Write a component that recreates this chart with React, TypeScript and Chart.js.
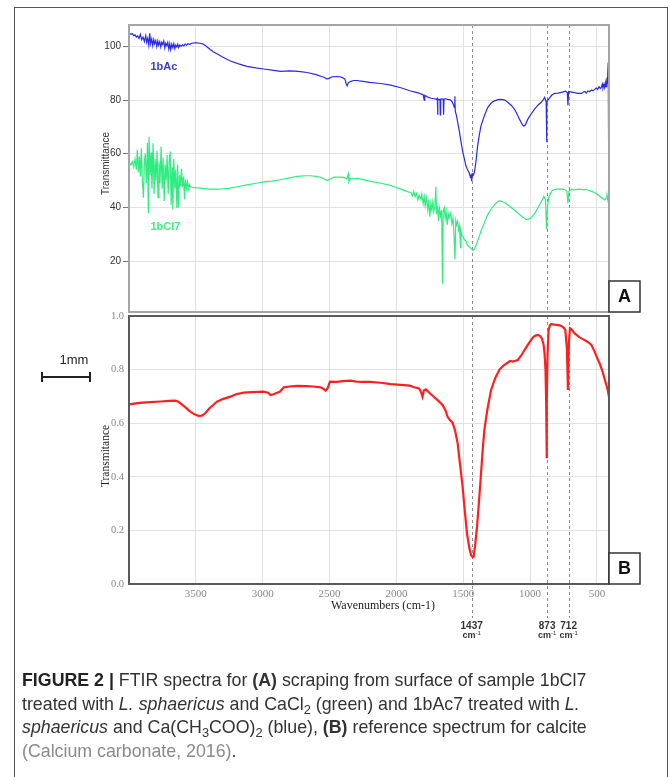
import React, { useEffect, useRef } from "react";
import { Chart, registerables } from "chart.js";

Chart.register(...registerables);

// ---------------- data ----------------
const X_MIN = 410;
const X_MAX = 4000;
const xTicks = [3500, 3000, 2500, 2000, 1500, 1000, 500];
const aTicks = [20, 40, 60, 80, 100];
const bTicks = [0, 0.2, 0.4, 0.6, 0.8, 1.0];
const markers = [1437, 873, 712];
const markerLabels = ["1437", "873", "712"];

// 1bAc (blue) : [wavenumber, transmittance]
const bAc7: [number, number][] = [
  [3995, 104.9], [3985, 104.5], [3975, 104.8], [3965, 104.0], [3955, 104.3], [3945, 103.5], [3935, 103.9],
  [3925, 103.0], [3915, 104.5], [3905, 102.5], [3895, 103.5], [3885, 101.8], [3875, 104.0], [3868, 101.5],
  [3860, 103.0], [3852, 100.5], [3845, 104.9], [3838, 101.0], [3830, 102.8], [3822, 100.3], [3815, 102.5],
  [3808, 101.0], [3800, 102.2], [3792, 100.0], [3785, 102.0], [3778, 100.5], [3770, 101.8], [3762, 99.8],
  [3755, 101.5], [3748, 100.8], [3740, 102.0], [3732, 99.5], [3725, 101.2], [3717, 100.3], [3710, 101.5],
  [3702, 99.0], [3695, 101.0], [3688, 98.8], [3680, 100.8], [3672, 99.5], [3665, 101.0], [3657, 99.2],
  [3650, 100.5], [3642, 99.8], [3635, 100.8], [3628, 99.6], [3620, 100.5], [3610, 100.0], [3600, 100.6],
  [3590, 100.2], [3580, 100.9], [3570, 100.5], [3560, 101.0], [3545, 100.8], [3530, 101.2], [3510, 101.3],
  [3492, 101.3], [3470, 101.2], [3445, 100.9], [3420, 100.0], [3390, 98.8], [3370, 98.0], [3343, 97.3],
  [3300, 96.1], [3242, 94.6], [3180, 93.5], [3118, 92.6], [3050, 92.0], [2992, 91.6], [2930, 91.2],
  [2867, 90.7], [2830, 90.8], [2800, 90.9], [2760, 90.8], [2720, 90.6], [2667, 90.3], [2600, 89.5],
  [2560, 88.8], [2542, 88.5], [2525, 88.0], [2515, 87.9], [2500, 88.2], [2480, 88.7], [2450, 88.8],
  [2420, 88.7], [2400, 88.3], [2385, 87.8], [2375, 86.0], [2368, 85.3], [2360, 86.5], [2345, 86.9],
  [2320, 87.3], [2295, 87.3], [2250, 87.0], [2200, 86.6], [2117, 86.2], [2043, 85.6], [1967, 84.6],
  [1900, 83.5], [1860, 83.0], [1830, 82.6], [1817, 82.3], [1800, 82.0], [1792, 80.0], [1788, 81.8],
  [1760, 81.0], [1740, 80.7], [1717, 80.5], [1700, 80.3], [1694, 80.6], [1692, 74.5], [1689, 80.4],
  [1680, 80.2], [1674, 80.5], [1672, 74.5], [1669, 80.3], [1660, 80.5], [1650, 80.2], [1647, 74.5],
  [1644, 80.4], [1630, 80.5], [1617, 80.3], [1600, 80.2], [1585, 79.5], [1575, 78.5], [1566, 77.2],
  [1563, 81.4], [1560, 76.0], [1550, 74.0], [1542, 71.8], [1530, 68.5], [1517, 64.5], [1505, 61.0],
  [1492, 58.2], [1480, 55.5], [1467, 53.9], [1455, 52.8], [1448, 51.5], [1442, 52.0], [1437, 49.8],
  [1432, 52.5], [1425, 52.0], [1417, 53.0], [1405, 57.0], [1392, 63.1], [1380, 67.0], [1367, 70.5],
  [1340, 74.5], [1317, 77.2], [1290, 79.0], [1267, 79.7], [1240, 80.2], [1217, 80.3], [1190, 80.0],
  [1167, 79.2], [1140, 78.0], [1117, 76.6], [1100, 75.0], [1080, 72.9], [1060, 71.0], [1047, 70.3],
  [1035, 70.8], [1017, 72.9], [990, 75.0], [967, 76.6], [940, 78.2], [917, 79.2], [900, 80.3],
  [892, 81.0], [880, 79.5], [877, 64.3], [874, 79.0], [868, 80.0], [862, 80.3], [840, 81.8], [817, 82.5],
  [790, 82.6], [760, 83.0], [735, 83.3], [722, 82.8], [717, 78.1], [712, 83.2], [690, 83.0], [667, 82.8],
  [640, 82.5], [617, 82.5], [600, 83.0], [590, 83.2], [580, 82.6], [567, 83.4], [555, 83.2], [540, 83.8],
  [530, 83.5], [517, 84.0], [505, 84.5], [495, 84.0], [485, 85.0], [475, 84.3], [467, 84.8], [460, 86.0],
  [455, 84.5], [448, 85.8], [442, 84.6], [437, 86.5], [432, 85.0], [427, 87.0], [424, 88.5], [421, 86.0],
  [418, 90.0], [416, 94.0], [414, 85.0], [412, 57.0], [411, 88.0], [410, 86.0],
];

// 1bCl7 (green)
const bCl7: [number, number][] = [
  [3995, 56.5], [3985, 55.8], [3975, 57.0], [3965, 55.0], [3955, 58.0], [3945, 54.0], [3938, 61.5],
  [3930, 53.0], [3922, 59.0], [3915, 51.5], [3908, 62.0], [3900, 50.0], [3892, 43.6], [3885, 57.0],
  [3878, 60.0], [3870, 49.0], [3862, 64.0], [3855, 37.8], [3850, 66.3], [3842, 52.0], [3835, 60.5],
  [3828, 47.0], [3820, 63.9], [3812, 45.0], [3805, 58.0], [3798, 50.0], [3790, 61.0], [3783, 43.6],
  [3776, 57.0], [3768, 49.0], [3760, 62.7], [3752, 47.0], [3745, 58.5], [3737, 42.4], [3730, 56.0],
  [3722, 50.0], [3715, 59.5], [3707, 45.0], [3700, 57.0], [3692, 60.8], [3685, 41.0], [3678, 55.0],
  [3672, 39.2], [3665, 58.0], [3657, 47.0], [3650, 54.0], [3642, 39.8], [3636, 56.0], [3630, 40.0],
  [3622, 52.0], [3615, 48.0], [3607, 54.5], [3600, 47.5], [3592, 51.5], [3585, 43.0], [3578, 50.5],
  [3570, 47.0], [3562, 49.5], [3555, 47.0], [3548, 48.5], [3540, 47.8], [3530, 47.5], [3490, 47.3],
  [3440, 47.0], [3400, 46.8], [3342, 46.8], [3300, 46.9], [3242, 47.2], [3180, 47.8], [3118, 48.4],
  [3050, 49.0], [2992, 49.5], [2930, 49.8], [2867, 50.3], [2800, 51.0], [2742, 51.6], [2680, 51.8],
  [2642, 51.8], [2600, 51.6], [2567, 51.2], [2540, 50.6], [2517, 50.0], [2500, 50.4], [2467, 51.3],
  [2420, 51.3], [2392, 51.2], [2370, 50.6], [2360, 52.5], [2355, 49.5], [2345, 50.8], [2330, 50.6],
  [2292, 50.8], [2200, 49.8], [2117, 49.0], [2042, 48.2], [2017, 47.7], [1967, 46.8], [1917, 45.9],
  [1890, 45.5], [1880, 44.3], [1870, 46.0], [1860, 44.0], [1850, 45.2], [1840, 42.8], [1830, 44.5],
  [1817, 43.0], [1810, 45.0], [1800, 41.5], [1792, 44.0], [1785, 40.5], [1775, 43.5], [1765, 39.0],
  [1757, 42.8], [1750, 36.5], [1742, 41.5], [1735, 39.0], [1728, 42.0], [1720, 38.5], [1712, 40.5],
  [1705, 47.7], [1700, 37.5], [1692, 40.5], [1685, 35.0], [1678, 39.5], [1670, 36.8], [1662, 39.0],
  [1655, 11.5], [1650, 38.5], [1642, 39.8], [1635, 36.0], [1628, 38.5], [1620, 33.5], [1612, 37.5],
  [1605, 36.0], [1597, 38.0], [1592, 37.3], [1585, 34.0], [1577, 36.0], [1570, 30.5], [1562, 20.7],
  [1556, 35.0], [1550, 33.5], [1542, 34.9], [1535, 31.5], [1528, 33.0], [1520, 25.0], [1517, 31.2],
  [1510, 29.5], [1500, 29.0], [1490, 27.8], [1480, 27.5], [1470, 26.0], [1460, 25.5], [1450, 25.0],
  [1442, 24.6], [1430, 24.0], [1417, 24.4], [1405, 25.8], [1392, 27.5], [1380, 29.3], [1367, 31.2],
  [1340, 34.5], [1317, 37.3], [1290, 39.5], [1267, 41.0], [1245, 42.0], [1230, 42.5], [1200, 42.0],
  [1167, 41.0], [1130, 39.5], [1092, 37.9], [1060, 36.5], [1030, 35.5], [1010, 35.6], [992, 36.1],
  [965, 37.8], [942, 39.8], [920, 41.8], [897, 44.1], [885, 43.0], [877, 31.8], [870, 40.0], [862, 43.5],
  [845, 45.5], [830, 46.5], [800, 46.8], [767, 46.9], [740, 46.6], [725, 46.0], [717, 41.6], [710, 46.0],
  [690, 46.7], [667, 46.5], [640, 46.8], [610, 46.6], [590, 46.7], [567, 46.5], [530, 45.8], [492, 44.7],
  [470, 43.8], [455, 43.2], [442, 42.8], [432, 43.5], [425, 44.2], [418, 42.5], [414, 46.0], [412, 32.4],
  [410, 43.5],
];

// calcite reference (red)
const calcite: [number, number][] = [
  [3995, 0.670], [3950, 0.674], [3900, 0.677], [3842, 0.679], [3760, 0.681], [3700, 0.683], [3655, 0.684],
  [3630, 0.680], [3617, 0.675], [3580, 0.660], [3542, 0.643], [3510, 0.633], [3480, 0.627], [3455, 0.628],
  [3430, 0.637], [3400, 0.655], [3370, 0.668], [3342, 0.680], [3300, 0.690], [3242, 0.699], [3200, 0.708],
  [3142, 0.714], [3080, 0.716], [2992, 0.718], [2960, 0.714], [2942, 0.705], [2920, 0.708], [2892, 0.714],
  [2870, 0.718], [2842, 0.734], [2800, 0.737], [2742, 0.739], [2680, 0.738], [2620, 0.737], [2567, 0.734],
  [2545, 0.728], [2530, 0.721], [2515, 0.730], [2497, 0.755], [2450, 0.754], [2400, 0.757], [2342, 0.759],
  [2300, 0.755], [2250, 0.754], [2200, 0.754], [2117, 0.751], [2042, 0.746], [1967, 0.743], [1900, 0.740],
  [1867, 0.734], [1830, 0.730], [1815, 0.715], [1805, 0.699], [1795, 0.722], [1780, 0.726], [1750, 0.712],
  [1717, 0.697], [1690, 0.685], [1655, 0.668], [1635, 0.650], [1617, 0.624], [1600, 0.612], [1580, 0.602],
  [1560, 0.570], [1542, 0.525], [1525, 0.450], [1505, 0.363], [1490, 0.280], [1472, 0.189], [1455, 0.135],
  [1442, 0.108], [1430, 0.100], [1422, 0.102], [1410, 0.150], [1397, 0.214], [1382, 0.310], [1367, 0.413],
  [1355, 0.500], [1342, 0.575], [1320, 0.650], [1292, 0.724], [1260, 0.770], [1230, 0.799], [1200, 0.815],
  [1167, 0.826], [1150, 0.832], [1130, 0.830], [1110, 0.833], [1092, 0.836], [1070, 0.850], [1042, 0.873],
  [1010, 0.898], [980, 0.920], [960, 0.927], [942, 0.929], [925, 0.925], [912, 0.916], [900, 0.895],
  [892, 0.861], [885, 0.800], [880, 0.680], [877, 0.469], [874, 0.680], [870, 0.850], [862, 0.948],
  [852, 0.965], [842, 0.970], [820, 0.968], [800, 0.967], [780, 0.965], [767, 0.963], [750, 0.957],
  [737, 0.948], [725, 0.880], [717, 0.724], [710, 0.900], [702, 0.954], [690, 0.950], [667, 0.935],
  [630, 0.920], [592, 0.910], [560, 0.900], [542, 0.892], [520, 0.870], [500, 0.845], [480, 0.823],
  [460, 0.795], [440, 0.760], [420, 0.725], [410, 0.699],
];

// ---------------- styles ----------------
const SANS = "'Liberation Sans', Arial, Helvetica, sans-serif";
const SERIF = "'Liberation Serif', 'Times New Roman', serif";
const BLUE = "#2a2ae6";
const GREEN = "#30ec80";
const RED = "#ff1f1f";
const GRID = "#e2e2e2";

const toXY = (arr: [number, number][]) => arr.map(([x, y]) => ({ x, y }));
const fixTicks = (vals: number[]) => (scale: any) => {
  scale.ticks = vals.map((v) => ({ value: v }));
};

function drawMarkers(chart: any, bottom: number) {
  const { ctx, chartArea: a } = chart;
  const xs = chart.scales.x;
  ctx.save();
  ctx.strokeStyle = "#8c8c8c";
  ctx.lineWidth = 1;
  ctx.setLineDash([3, 3]);
  markers.forEach((m) => {
    const px = Math.round(xs.getPixelForValue(m)) + 0.5;
    ctx.beginPath();
    ctx.moveTo(px, a.top);
    ctx.lineTo(px, bottom);
    ctx.stroke();
  });
  ctx.restore();
}

function drawLetterBox(ctx: any, a: any, letter: string) {
  const s = 31;
  ctx.save();
  ctx.fillStyle = "#fff";
  ctx.fillRect(a.right, a.bottom - s, s, s);
  ctx.strokeStyle = "#333";
  ctx.lineWidth = 1.5;
  ctx.strokeRect(a.right, a.bottom - s, s, s);
  ctx.fillStyle = "#111";
  ctx.font = `bold 18px ${SANS}`;
  ctx.textAlign = "center";
  ctx.textBaseline = "middle";
  ctx.fillText(letter, a.right + s / 2, a.bottom - s / 2 + 1);
  ctx.restore();
}

const overlayA = {
  id: "overlayA",
  beforeDatasetsDraw(chart: any) {
    drawMarkers(chart, chart.chartArea.bottom);
  },
  afterDraw(chart: any) {
    const { ctx, chartArea: a } = chart;
    const xs = chart.scales.x;
    const ys = chart.scales.y;
    ctx.save();
    ctx.strokeStyle = "#a5a5a5";
    ctx.lineWidth = 2;
    ctx.strokeRect(a.left, a.top, a.right - a.left, a.bottom - a.top);

    ctx.font = `bold 11px ${SANS}`;
    ctx.textAlign = "left";
    ctx.textBaseline = "middle";
    ctx.fillStyle = "#3a3ad0";
    ctx.fillText("1bAc", xs.getPixelForValue(3840), ys.getPixelForValue(92.2));
    ctx.fillStyle = "#3cf07a";
    ctx.fillText("1bCl7", xs.getPixelForValue(3840), ys.getPixelForValue(32.6));

    ctx.save();
    ctx.translate(106, (a.top + a.bottom) / 2 - 5);
    ctx.rotate(-Math.PI / 2);
    ctx.font = `10px ${SANS}`;
    ctx.fillStyle = "#333";
    ctx.textAlign = "center";
    ctx.textBaseline = "middle";
    ctx.fillText("Transmittance", 0, 0);
    ctx.restore();
    ctx.restore();

    drawLetterBox(ctx, a, "A");
  },
};

const overlayB = {
  id: "overlayB",
  beforeDatasetsDraw(chart: any) {
    drawMarkers(chart, 318);
  },
  afterDraw(chart: any) {
    const { ctx, chartArea: a } = chart;
    const xs = chart.scales.x;
    ctx.save();
    ctx.strokeStyle = "#5a5a5a";
    ctx.lineWidth = 2;
    ctx.strokeRect(a.left, a.top, a.right - a.left, a.bottom - a.top);

    // marker labels
    ctx.fillStyle = "#333";
    ctx.textAlign = "center";
    ctx.textBaseline = "middle";
    markers.forEach((m, i) => {
      const px = xs.getPixelForValue(m);
      ctx.font = `bold 10px ${SANS}`;
      ctx.fillText(markerLabels[i], px, 326);
      ctx.font = `bold 9px ${SANS}`;
      const w = ctx.measureText("cm").width;
      ctx.font = `6px ${SANS}`;
      const w2 = ctx.measureText("-1").width;
      const start = px - (w + w2) / 2;
      ctx.textAlign = "left";
      ctx.font = `bold 9px ${SANS}`;
      ctx.fillText("cm", start, 336);
      ctx.font = `6px ${SANS}`;
      ctx.fillText("-1", start + w, 333);
      ctx.textAlign = "center";
    });

    // y title
    ctx.save();
    ctx.translate(106, (a.top + a.bottom) / 2 + 6);
    ctx.rotate(-Math.PI / 2);
    ctx.font = `11.5px ${SERIF}`;
    ctx.fillStyle = "#222";
    ctx.textAlign = "center";
    ctx.textBaseline = "middle";
    ctx.fillText("Transmitance", 0, 0);
    ctx.restore();

    // x title
    ctx.font = `12px ${SERIF}`;
    ctx.fillStyle = "#222";
    ctx.textAlign = "center";
    ctx.textBaseline = "middle";
    ctx.fillText("Wavenumbers (cm-1)", 383, 306);

    // scale bar
    ctx.fillStyle = "#222";
    ctx.font = `13px ${SANS}`;
    ctx.fillText("1mm", 74, 60);
    ctx.strokeStyle = "#222";
    ctx.lineWidth = 2;
    ctx.beginPath();
    ctx.moveTo(41, 77);
    ctx.lineTo(91, 77);
    ctx.moveTo(42, 72);
    ctx.lineTo(42, 82);
    ctx.moveTo(90, 72);
    ctx.lineTo(90, 82);
    ctx.stroke();
    ctx.restore();

    drawLetterBox(ctx, a, "B");
  },
};

function configA(): any {
  return {
    type: "line",
    data: {
      datasets: [
        { data: toXY(bAc7), borderColor: BLUE, borderWidth: 1.2, pointRadius: 0, tension: 0 },
        { data: toXY(bCl7), borderColor: GREEN, borderWidth: 1.2, pointRadius: 0, tension: 0 },
      ],
    },
    options: {
      animation: false,
      responsive: false,
      events: [],
      layout: { padding: { left: 0, right: 61, top: 25, bottom: 0 } },
      plugins: { legend: { display: false }, tooltip: { enabled: false } },
      scales: {
        x: {
          type: "linear",
          min: X_MIN,
          max: X_MAX,
          reverse: true,
          afterBuildTicks: fixTicks(xTicks),
          ticks: { display: false },
          grid: { color: GRID, drawTicks: false },
          border: { display: false },
          afterFit: (s: any) => {
            s.height = 4;
          },
        },
        y: {
          type: "linear",
          min: 1,
          max: 108,
          afterBuildTicks: fixTicks(aTicks),
          ticks: {
            font: { family: SANS, size: 10 },
            color: "#333",
            padding: 2,
            autoSkip: false,
            callback: (v: any) => String(v),
          },
          grid: { color: GRID, tickColor: "#777", tickLength: 6, drawTicks: true },
          border: { display: false },
          afterFit: (s: any) => {
            s.width = 129;
          },
        },
      },
    },
    plugins: [overlayA],
  };
}

function configB(): any {
  return {
    type: "line",
    data: {
      datasets: [
        { data: toXY(calcite), borderColor: RED, borderWidth: 2.2, pointRadius: 0, tension: 0 },
      ],
    },
    options: {
      animation: false,
      responsive: false,
      events: [],
      layout: { padding: { left: 0, right: 61, top: 16, bottom: 0 } },
      plugins: { legend: { display: false }, tooltip: { enabled: false } },
      scales: {
        x: {
          type: "linear",
          min: X_MIN,
          max: X_MAX,
          reverse: true,
          afterBuildTicks: fixTicks(xTicks),
          ticks: {
            font: { family: SERIF, size: 11 },
            color: "#8a8a8a",
            padding: 4,
            autoSkip: false,
            maxRotation: 0,
            callback: (v: any) => String(v),
          },
          grid: { color: GRID, drawTicks: false },
          border: { display: false },
          afterFit: (s: any) => {
            s.height = 76;
          },
        },
        y: {
          type: "linear",
          min: 0,
          max: 1,
          afterBuildTicks: fixTicks(bTicks),
          ticks: {
            font: { family: SERIF, size: 10.5 },
            color: "#8a8a8a",
            padding: 5,
            autoSkip: false,
            callback: (v: any) => Number(v).toFixed(1),
          },
          grid: { color: GRID, drawTicks: false },
          border: { display: false },
          afterFit: (s: any) => {
            s.width = 129;
          },
        },
      },
    },
    plugins: [overlayB],
  };
}

const subStyle: React.CSSProperties = { fontSize: "0.72em", verticalAlign: "-0.3em", lineHeight: 0 };

export default function App() {
  const refA = useRef<HTMLCanvasElement>(null);
  const refB = useRef<HTMLCanvasElement>(null);

  useEffect(() => {
    const a = new Chart(refA.current as HTMLCanvasElement, configA());
    const b = new Chart(refB.current as HTMLCanvasElement, configB());
    return () => {
      a.destroy();
      b.destroy();
    };
  }, []);

  return (
    <div
      style={{
        position: "absolute",
        left: 0,
        top: 0,
        width: 670,
        height: 777,
        background: "#fff",
        overflow: "hidden",
      }}
    >
      <div
        style={{
          position: "absolute",
          left: 14,
          top: 7,
          width: 654,
          height: 800,
          border: "1px solid #555",
          borderBottom: "none",
          boxSizing: "border-box",
        }}
      />
      <canvas ref={refA} width={670} height={320} style={{ position: "absolute", left: 0, top: 0 }} />
      <canvas ref={refB} width={670} height={360} style={{ position: "absolute", left: 0, top: 300 }} />
      <div
        style={{
          position: "absolute",
          left: 22,
          top: 669,
          width: 640,
          fontFamily: SANS,
          fontSize: 17.8,
          lineHeight: "23.5px",
          color: "#333",
          whiteSpace: "nowrap",
        }}
      >
        <b style={{ color: "#222" }}>FIGURE 2 |</b> FTIR spectra for <b>(A)</b> scraping from surface of sample 1bCl7
        <br />
        treated with <i>L. sphaericus</i> and CaCl<sub style={subStyle}>2</sub> (green) and 1bAc7 treated with <i>L.</i>
        <br />
        <i>sphaericus</i> and Ca(CH<sub style={subStyle}>3</sub>COO)<sub style={subStyle}>2</sub> (blue), <b>(B)</b>{" "}
        reference spectrum for calcite
        <br />
        <span style={{ color: "#8a8a8a" }}>(Calcium carbonate, 2016)</span>.
      </div>
    </div>
  );
}
